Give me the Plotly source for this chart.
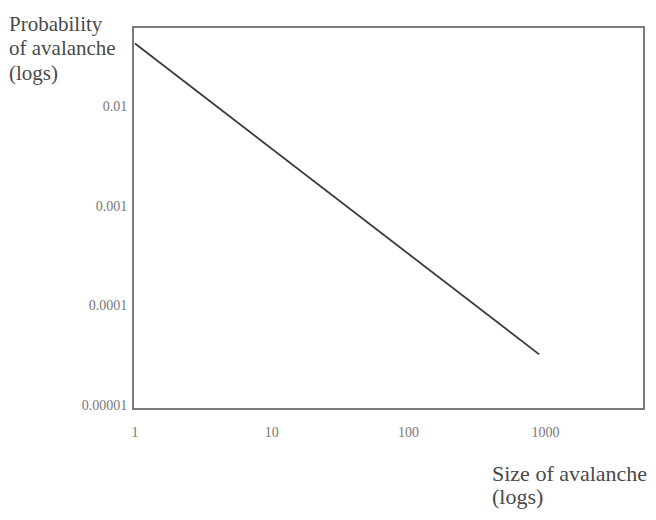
import plotly.graph_objects as go

# Data
sizes = [1, 900]
probabilities = [0.043, 0.000032]

x_tick_vals = [1, 10, 100, 1000]
x_tick_text = ["1", "10", "100", "1000"]
y_tick_vals = [0.01, 0.001, 0.0001, 0.00001]
y_tick_text = ["0.01", "0.001", "0.0001", "0.00001"]

# the page body adds an 8px margin, so the figure is 8px smaller
W, H = 648, 512
L, T, R, B = 126, 20, 11, 112
PW, PH = W - L - R, H - T - B

fig = go.Figure()
fig.add_trace(go.Scatter(x=sizes, y=probabilities, mode="lines",
                         line=dict(color="#3a3a3a", width=1.8),
                         showlegend=False, hoverinfo="skip"))

serif = "Liberation Serif, Times New Roman, serif"
axis_common = dict(type="log", showgrid=False, zeroline=False, showline=True,
                   linecolor="#7a7a7a", linewidth=2, mirror=True, ticks="",
                   tickfont=dict(family=serif, size=14, color="#777777"))


def px_x(px):
    return (px - 8 - L) / PW


def px_y(py):
    return 1 - (py - 8 - T) / PH


title_font = dict(family=serif, size=21, color="#4a4a4a")
xt_font = dict(family=serif, size=22, color="#4a4a4a")

annots = []
for txt, yy in [("Probability", 24), ("of avalanche", 48), ("(logs)", 73)]:
    annots.append(dict(text=txt, xref="paper", yref="paper", x=px_x(7), y=px_y(yy),
                       xanchor="left", yanchor="middle", showarrow=False,
                       font=title_font))
for txt, yy in [("Size of avalanche", 473), ("(logs)", 496)]:
    annots.append(dict(text=txt, xref="paper", yref="paper", x=px_x(491), y=px_y(yy),
                       xanchor="left", yanchor="middle", showarrow=False,
                       font=xt_font))

fig.update_layout(
    width=W, height=H,
    margin=dict(l=L, r=R, t=T, b=B),
    paper_bgcolor="white", plot_bgcolor="white",
    xaxis=dict(range=[-0.007, 3.713], tickvals=x_tick_vals, ticktext=x_tick_text,
               ticklabelstandoff=10, **axis_common),
    yaxis=dict(range=[-5.034, -1.211], tickvals=y_tick_vals, ticktext=y_tick_text,
               ticklabelstandoff=2, **axis_common),
    annotations=annots,
)

fig.write_html("out.html")
